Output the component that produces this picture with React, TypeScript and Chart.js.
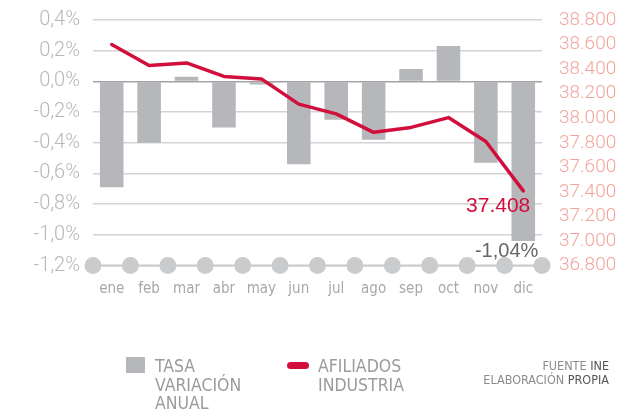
import React, { useEffect, useRef } from "react";
import { Chart, registerables } from "chart.js";

Chart.register(...registerables);

const months = ["ene", "feb", "mar", "abr", "may", "jun", "jul", "ago", "sep", "oct", "nov", "dic"];
const tasaVariacion = [-0.69, -0.4, 0.03, -0.3, -0.02, -0.54, -0.25, -0.38, 0.08, 0.23, -0.53, -1.04];
const afiliados = [38600, 38430, 38450, 38340, 38320, 38115, 38035, 37885, 37925, 38005, 37810, 37408];

const CRIMSON = "#d20f3c";
const BAR_GRAY = "#b6b7ba";
const DOT_GRAY = "#c9cbcd";
const COND = '"DejaVu Sans Condensed", "DejaVu Sans", sans-serif';

const fmtThousands = (v: number) => String(Math.round(v)).replace(/\B(?=(\d{3})+(?!\d))/g, ".");
const fmtPct = (v: number, d: number) => {
  const x = Math.abs(v) < 1e-9 ? 0 : v;
  return x.toFixed(d).replace(".", ",") + "%";
};

const decorPlugin = {
  id: "decor",
  beforeDatasetsDraw(chart: any) {
    const { ctx, chartArea } = chart;
    const xs = chart.scales.x;
    const n = months.length;
    ctx.save();
    ctx.strokeStyle = DOT_GRAY;
    ctx.lineWidth = 2;
    ctx.beginPath();
    ctx.moveTo(chartArea.left, chartArea.bottom);
    ctx.lineTo(chartArea.right, chartArea.bottom);
    ctx.stroke();
    ctx.fillStyle = DOT_GRAY;
    for (let i = 0; i <= n; i++) {
      const x = xs.left + (i * xs.width) / n;
      ctx.beginPath();
      ctx.arc(x, chartArea.bottom, 8.5, 0, Math.PI * 2);
      ctx.fill();
    }
    ctx.restore();
  },
  afterDatasetsDraw(chart: any) {
    const { ctx } = chart;
    const last = months.length - 1;
    const lineMeta = chart.getDatasetMeta(0);
    const barMeta = chart.getDatasetMeta(1);
    const pt = lineMeta.data[last];
    const bar = barMeta.data[last];
    ctx.save();
    ctx.textAlign = "right";
    ctx.textBaseline = "alphabetic";
    ctx.font = '21px "Liberation Sans", Arial, sans-serif';
    ctx.fillStyle = CRIMSON;
    ctx.fillText(fmtThousands(afiliados[last]), pt.x + 7, pt.y + 21);
    ctx.font = '20px "Liberation Sans", Arial, sans-serif';
    ctx.fillStyle = "#666666";
    ctx.fillText(fmtPct(tasaVariacion[last], 2), bar.x + 15, bar.y + 16);
    ctx.restore();
  },
};

export default function App() {
  const canvasRef = useRef<HTMLCanvasElement | null>(null);

  useEffect(() => {
    if (!canvasRef.current) return;
    const chart = new Chart(canvasRef.current, {
      type: "bar",
      data: {
        labels: months,
        datasets: [
          {
            type: "line",
            label: "AFILIADOS INDUSTRIA",
            data: afiliados,
            yAxisID: "y1",
            borderColor: CRIMSON,
            borderWidth: 3.5,
            pointRadius: 0,
            tension: 0,
            order: 0,
            borderCapStyle: "round",
            borderJoinStyle: "round",
          } as any,
          {
            type: "bar",
            label: "TASA VARIACIÓN ANUAL",
            data: tasaVariacion,
            yAxisID: "y",
            backgroundColor: BAR_GRAY,
            barPercentage: 0.63,
            categoryPercentage: 1,
            order: 1,
          },
        ],
      },
      options: {
        responsive: false,
        animation: false,
        layout: { padding: { top: 20, left: 0, right: 0, bottom: 0 } },
        plugins: { legend: { display: false }, tooltip: { enabled: false } },
        scales: {
          x: {
            offset: true,
            grid: { display: false, drawTicks: false },
            border: { display: false },
            ticks: {
              color: "#a8a8a8",
              font: { family: COND, size: 15 },
              padding: 15,
              maxRotation: 0,
              autoSkip: false,
            },
            afterFit: (s: any) => {
              s.height = 411 - 265.5;
            },
          },
          y: {
            position: "left",
            min: -1.2,
            max: 0.4,
            ticks: {
              stepSize: 0.2,
              autoSkip: false,
              color: "#b5b8bb",
              font: { family: "Roboto", size: 20, weight: 300 as any },
              padding: 2,
              callback: (v: any) => fmtPct(Number(v), 1),
            },
            grid: {
              drawTicks: true,
              tickLength: 11,
              tickColor: "rgba(0,0,0,0)",
              lineWidth: 1.5,
              color: (c: any) => (Math.abs(c.tick.value) < 1e-9 ? "#a3a3a3" : "#d3d3d3"),
            },
            border: { display: false },
            afterFit: (s: any) => {
              s.width = 93;
            },
          },
          y1: {
            position: "right",
            min: 36800,
            max: 38800,
            ticks: {
              stepSize: 200,
              autoSkip: false,
              color: "#f2a59c",
              font: { family: "Roboto", size: 19, weight: 300 as any },
              padding: 2,
              callback: (v: any) => fmtThousands(Number(v)),
            },
            grid: {
              drawOnChartArea: false,
              drawTicks: true,
              tickLength: 15,
              tickColor: "rgba(0,0,0,0)",
            },
            border: { display: false },
            afterFit: (s: any) => {
              s.width = 97;
            },
          },
        },
      },
      plugins: [decorPlugin],
    });
    return () => chart.destroy();
  }, []);

  const legendText: React.CSSProperties = {
    position: "absolute",
    top: 357,
    fontFamily: COND,
    fontStretch: "condensed",
    fontSize: 17.5,
    lineHeight: "18.5px",
    color: "#9b9b9b",
    whiteSpace: "nowrap",
  };

  return (
    <div style={{ position: "absolute", left: 0, top: 0, width: 639, height: 411, background: "#fff" }}>
      <canvas ref={canvasRef} width={639} height={411} style={{ display: "block" }} />
      <div style={{ position: "absolute", left: 126, top: 357, width: 19, height: 16, background: BAR_GRAY }} />
      <div style={{ ...legendText, left: 155 }}>
        TASA
        <br />
        VARIACIÓN
        <br />
        ANUAL
      </div>
      <div
        style={{
          position: "absolute",
          left: 287,
          top: 361.5,
          width: 22,
          height: 7,
          borderRadius: 4,
          background: CRIMSON,
        }}
      />
      <div style={{ ...legendText, left: 318 }}>
        AFILIADOS
        <br />
        INDUSTRIA
      </div>
      <div
        style={{
          position: "absolute",
          right: 30,
          top: 359,
          textAlign: "right",
          fontFamily: COND,
          fontStretch: "condensed",
          fontSize: 12.5,
          lineHeight: "13.5px",
          color: "#8c8c8c",
          whiteSpace: "nowrap",
        }}
      >
        FUENTE <span style={{ color: "#555" }}>INE</span>
        <br />
        ELABORACIÓN <span style={{ color: "#555" }}>PROPIA</span>
      </div>
    </div>
  );
}
